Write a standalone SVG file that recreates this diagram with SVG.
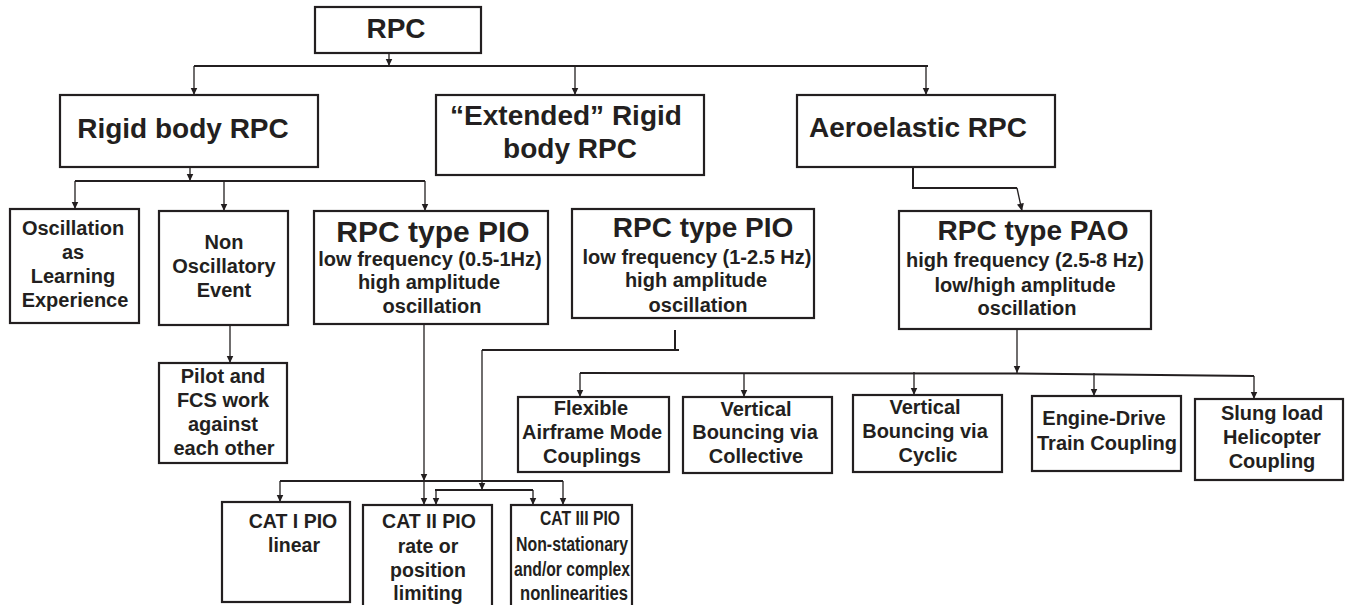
<svg xmlns="http://www.w3.org/2000/svg" width="1346" height="605" viewBox="0 0 1346 605">
<defs>
<marker id="ah" markerUnits="userSpaceOnUse" markerWidth="8" markerHeight="8" refX="7.5" refY="3.5" orient="auto">
<path d="M0,0 L7.5,3.5 L0,7 z" fill="#231f20"/>
</marker>
<style>
.box{fill:#fff;stroke:#231f20;stroke-width:2.2}
.t{font-family:"Liberation Sans",Arial,Helvetica,sans-serif;font-weight:bold;fill:#231f20;text-anchor:middle}
.big{font-size:28px}
.sm{font-size:20px}
.cat{font-size:19.5px}
.c{fill:none;stroke:#231f20;stroke-width:1.3}
.bus{fill:none;stroke:#231f20;stroke-width:2}
.a{fill:none;stroke:#231f20;stroke-width:1.3;marker-end:url(#ah)}
</style>
</defs>
<rect width="1346" height="605" fill="#fff"/>
<g id="connectors">
<line class="a" x1="389" y1="53" x2="389" y2="66"/>
<line class="bus" x1="194" y1="66" x2="928" y2="66"/>
<line class="a" x1="194" y1="66" x2="194" y2="95"/>
<line class="a" x1="575" y1="66" x2="575" y2="95"/>
<line class="a" x1="926" y1="66" x2="926" y2="95"/>
<line class="a" x1="190" y1="167" x2="190" y2="181"/>
<line class="bus" x1="75" y1="181" x2="425" y2="181"/>
<line class="a" x1="75" y1="181" x2="75" y2="209"/>
<line class="a" x1="224" y1="181" x2="224" y2="211"/>
<line class="a" x1="425" y1="181" x2="425" y2="211"/>
<line class="a" x1="230" y1="325" x2="230" y2="363"/>
<polyline class="bus" points="913,167 913,188 1017,188"/>
<line class="a" x1="1017" y1="188" x2="1022" y2="211"/>
<line class="a" x1="1017" y1="329" x2="1017" y2="373"/>
<polyline class="bus" points="580,373 1017,373.5 1254,376"/>
<line class="a" x1="580" y1="373" x2="580" y2="397"/>
<line class="a" x1="744" y1="373" x2="744" y2="397"/>
<line class="a" x1="914" y1="372" x2="914" y2="395"/>
<line class="a" x1="1094" y1="373" x2="1094" y2="396"/>
<line class="a" x1="1254" y1="376" x2="1254" y2="399"/>
<line class="a" x1="424" y1="324" x2="424" y2="481"/>
<line class="bus" x1="280" y1="481" x2="563" y2="481"/>
<line class="a" x1="280" y1="481" x2="280" y2="502"/>
<line class="a" x1="424" y1="481" x2="424" y2="505"/>
<line class="a" x1="563" y1="481" x2="563" y2="505"/>
<line class="bus" x1="675" y1="330" x2="675" y2="350"/>
<line class="bus" x1="679" y1="350" x2="482" y2="350"/>
<line class="a" x1="482" y1="350" x2="482" y2="490"/>
<line class="bus" x1="435" y1="490" x2="533" y2="490"/>
<line class="a" x1="436" y1="490" x2="436" y2="505"/>
<line class="a" x1="533" y1="490" x2="533" y2="505"/>
</g>
<g id="rpc">
<rect class="box" x="315" y="7" width="166" height="46"/>
<text class="t big" x="396" y="38">RPC</text>
</g>
<g id="rigid">
<rect class="box" x="60" y="95" width="258" height="72"/>
<text class="t big" x="183" y="138">Rigid body RPC</text>
</g>
<g id="extended">
<rect class="box" x="436" y="95" width="268" height="80"/>
<text class="t big" x="566" y="125">“Extended” Rigid</text>
<text class="t big" x="570" y="158">body RPC</text>
</g>
<g id="aeroelastic">
<rect class="box" x="797" y="95" width="258" height="72"/>
<text class="t big" x="918" y="137">Aeroelastic RPC</text>
</g>
<g id="oscillation">
<rect class="box" x="10" y="209" width="129" height="114"/>
<text class="t sm" x="73" y="235">Oscillation</text>
<text class="t sm" x="73" y="259">as</text>
<text class="t sm" x="73" y="283">Learning</text>
<text class="t sm" x="75" y="307">Experience</text>
</g>
<g id="nonosc">
<rect class="box" x="159" y="211" width="129" height="114"/>
<text class="t sm" x="224" y="249">Non</text>
<text class="t sm" x="224" y="273">Oscillatory</text>
<text class="t sm" x="224" y="297">Event</text>
</g>
<g id="pilot">
<rect class="box" x="159" y="363" width="128" height="100"/>
<text class="t sm" x="223" y="383">Pilot and</text>
<text class="t sm" x="223" y="407">FCS work</text>
<text class="t sm" x="223" y="431">against</text>
<text class="t sm" x="224" y="455">each other</text>
</g>
<g id="pio1">
<rect class="box" x="314" y="211" width="234" height="113"/>
<text class="t" style="font-size:30px" x="433" y="242">RPC type PIO</text>
<text class="t sm" x="430" y="266">low frequency (0.5-1Hz)</text>
<text class="t sm" x="429" y="289">high amplitude</text>
<text class="t sm" x="432" y="313">oscillation</text>
</g>
<g id="pio2">
<rect class="box" x="572" y="209" width="242" height="109"/>
<text class="t big" x="703" y="237">RPC type PIO</text>
<text class="t sm" x="697" y="264">low frequency (1-2.5 Hz)</text>
<text class="t sm" x="696" y="287">high amplitude</text>
<text class="t sm" x="698" y="312">oscillation</text>
</g>
<g id="pao">
<rect class="box" x="899" y="211" width="252" height="118"/>
<text class="t big" x="1033" y="240">RPC type PAO</text>
<text class="t sm" x="1025" y="267">high frequency (2.5-8 Hz)</text>
<text class="t sm" x="1025" y="292">low/high amplitude</text>
<text class="t sm" x="1027" y="315">oscillation</text>
</g>
<g id="flexible">
<rect class="box" x="518" y="397" width="151" height="75"/>
<text class="t sm" x="591" y="415">Flexible</text>
<text class="t sm" x="592" y="439">Airframe Mode</text>
<text class="t sm" x="592" y="463">Couplings</text>
</g>
<g id="collective">
<rect class="box" x="683" y="397" width="149" height="76"/>
<text class="t sm" x="756" y="416">Vertical</text>
<text class="t sm" x="755" y="439">Bouncing via</text>
<text class="t sm" x="756" y="463">Collective</text>
</g>
<g id="cyclic">
<rect class="box" x="853" y="395" width="149" height="77"/>
<text class="t sm" x="925" y="414">Vertical</text>
<text class="t sm" x="925" y="438">Bouncing via</text>
<text class="t sm" x="928" y="462">Cyclic</text>
</g>
<g id="engine">
<rect class="box" x="1032" y="396" width="149" height="75"/>
<text class="t sm" x="1104" y="425">Engine-Drive</text>
<text class="t sm" x="1107" y="450" textLength="140" lengthAdjust="spacingAndGlyphs">Train Coupling</text>
</g>
<g id="slung">
<rect class="box" x="1195" y="399" width="148" height="81"/>
<text class="t sm" x="1272" y="420">Slung load</text>
<text class="t sm" x="1272" y="444">Helicopter</text>
<text class="t sm" x="1272" y="468">Coupling</text>
</g>
<g id="cat1">
<rect class="box" x="222" y="502" width="128" height="100"/>
<text class="t cat" x="293" y="528">CAT I PIO</text>
<text class="t cat" x="294" y="552">linear</text>
</g>
<g id="cat2">
<rect class="box" x="363" y="505" width="129" height="106"/>
<text class="t cat" x="429" y="528">CAT II PIO</text>
<text class="t cat" x="428" y="553">rate or</text>
<text class="t cat" x="428" y="577">position</text>
<text class="t cat" x="428" y="600">limiting</text>
</g>
<g id="cat3">
<rect class="box" x="511" y="505" width="121" height="106"/>
<text class="t cat" x="580" y="525" textLength="80" lengthAdjust="spacingAndGlyphs">CAT III PIO</text>
<text class="t cat" x="572" y="551" textLength="112" lengthAdjust="spacingAndGlyphs">Non-stationary</text>
<text class="t cat" x="572" y="576" textLength="116" lengthAdjust="spacingAndGlyphs">and/or complex</text>
<text class="t cat" x="574" y="600" textLength="108" lengthAdjust="spacingAndGlyphs">nonlinearities</text>
</g>
</svg>
